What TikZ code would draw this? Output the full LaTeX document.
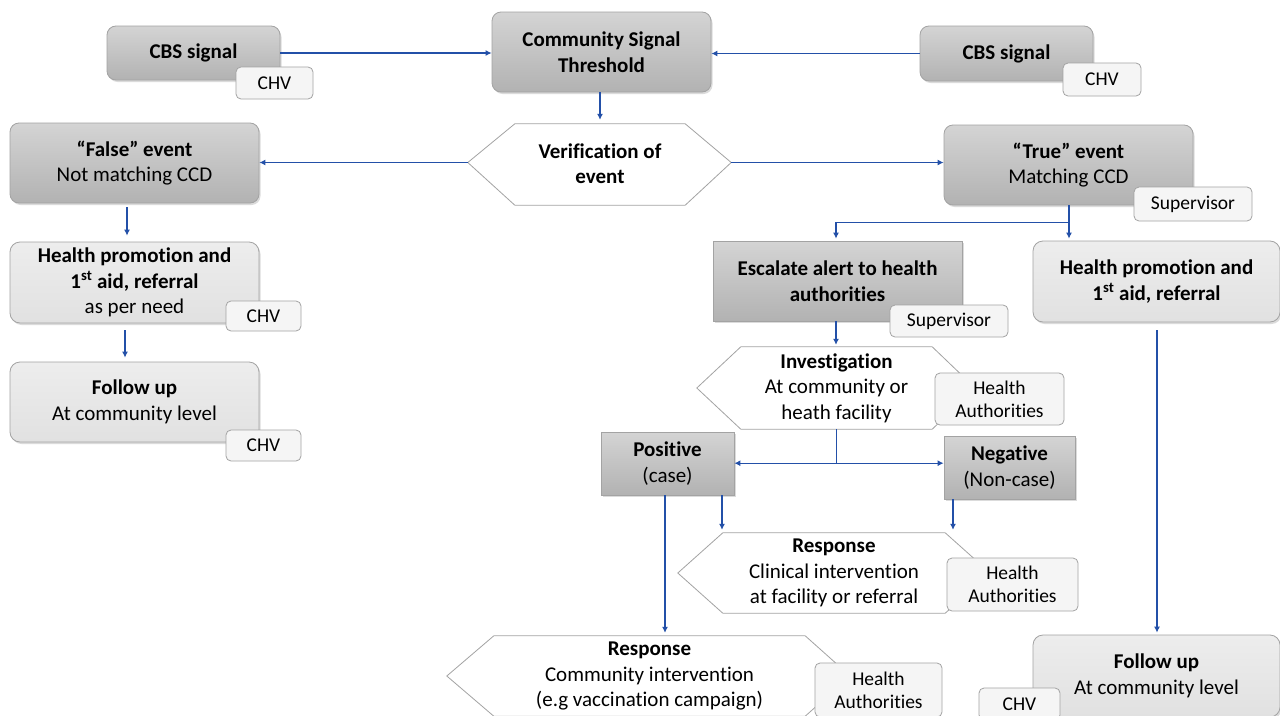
\documentclass[tikz,border=0pt]{standalone}
\usepackage{fontspec}
\setmainfont{Carlito}[Ligatures=NoCommon]
\usetikzlibrary{calc,arrows.meta,shadows,backgrounds}
\definecolor{arrblue}{HTML}{2350A8}
\definecolor{edgegray}{HTML}{A3A3A3}
\definecolor{darktop}{HTML}{D4D4D4}
\definecolor{darkbot}{HTML}{B2B2B2}
\definecolor{lighttop}{HTML}{EDEDED}
\definecolor{lightbot}{HTML}{E1E1E1}
\definecolor{tagfill}{HTML}{F5F5F5}
\tikzset{
  base/.style={inner sep=0pt, align=center, font=\fontsize{21}{25.5}\selectfont, text=black},
  boxshadow/.style={drop shadow={shadow xshift=1.5pt, shadow yshift=-2pt, opacity=0.28}},
  darkbox/.style={base, draw=edgegray, line width=0.8pt, top color=darktop, bottom color=darkbot, rounded corners=9pt, boxshadow},
  darkrect/.style={base, draw=edgegray, line width=0.8pt, top color=darktop, bottom color=darkbot, sharp corners, boxshadow},
  lightbox/.style={base, draw=edgegray, line width=0.8pt, top color=lighttop, bottom color=lightbot, rounded corners=10pt, boxshadow},
  tag/.style={base, font=\fontsize{19.5}{23}\selectfont, draw=edgegray, fill=tagfill, rounded corners=5pt, line width=0.8pt},
  hex/.style={draw=edgegray, fill=white, line width=0.8pt},
  arr/.style={draw=arrblue, line width=1.1pt, -{Latex[length=6pt,width=6pt]}},
  plain/.style={draw=arrblue, line width=1.1pt},
}
\begin{document}
\begin{tikzpicture}[x=1pt,y=-1pt]
\useasboundingbox (0,0) rectangle (1280,715);
\clip (0,0) rectangle (1280,715);
\begin{pgfonlayer}{background}
\fill[white] (0,0) rectangle (1280,715);
\end{pgfonlayer}

% top row
\node[darkbox, minimum width=173, minimum height=54] (cbsL) at (193.5,53) {\textbf{CBS signal}};
\node[tag, minimum width=77, minimum height=32] (cbsLt) at (274.5,83) {CHV};
\node[darkbox, minimum width=219, minimum height=80] (cst) at (601.5,52) {\textbf{Community Signal}\\\textbf{Threshold}};
\node[darkbox, minimum width=173, minimum height=55] (cbsR) at (1006.5,53.5) {\textbf{CBS signal}};
\node[tag, minimum width=78, minimum height=33] (cbsRt) at (1102,79.5) {CHV};

% verification
\node[base, minimum width=170, minimum height=81] (ver) at (600,163.5) {\textbf{Verification of}\\\textbf{event}};
\coordinate (verL) at ($(ver.west)+(-47,-1)$);
\coordinate (verR) at ($(ver.east)+(46,-1)$);
\begin{pgfonlayer}{background}
\draw[hex] (verL) -- ([yshift=-1]ver.north west) -- ([yshift=-1]ver.north east) -- (verR) -- ([yshift=-1]ver.south east) -- ([yshift=-1]ver.south west) -- cycle;
\end{pgfonlayer}

\node[darkbox, minimum width=249, minimum height=80] (falseE) at (134.5,163) {\textbf{“False” event}\\Not matching CCD};
\node[darkbox, minimum width=249, minimum height=80] (trueE) at (1068.5,165) {\textbf{“True” event}\\Matching CCD};
\node[tag, minimum width=118, minimum height=34] (trueEt) at (1193,204) {Supervisor};

% left column
\node[lightbox, minimum width=249, minimum height=81] (hpL) at (134.5,282.5) {\textbf{Health promotion and}\\\textbf{1\textsuperscript{st} aid, referral}\\as per need};
\node[tag, minimum width=75, minimum height=30] (hpLt) at (263.5,316) {CHV};
\node[lightbox, minimum width=249, minimum height=80] (fuL) at (134.5,402) {\textbf{Follow up}\\At community level};
\node[tag, minimum width=75, minimum height=31] (fuLt) at (263.5,445.5) {CHV};

% right branch
\node[darkrect, minimum width=249, minimum height=80] (esc) at (837.5,281) {\textbf{Escalate alert to health}\\\textbf{authorities}};
\node[tag, minimum width=118, minimum height=32] (escT) at (949,321) {Supervisor};
\node[lightbox, minimum width=247, minimum height=81] (hpR) at (1156.5,281.5) {\textbf{Health promotion and}\\\textbf{1\textsuperscript{st} aid, referral}};

% investigation
\node[base, minimum width=191, minimum height=82] (inv) at (836.5,388) {\textbf{Investigation}\\At community or\\heath facility};
\coordinate (invL) at ($(inv.west)+(-44,0)$);
\coordinate (invR) at ($(inv.east)+(43,0)$);
\begin{pgfonlayer}{background}
\draw[hex] (invL) -- (inv.north west) -- (inv.north east) -- (invR) -- (inv.south east) -- (inv.south west) -- cycle;
\end{pgfonlayer}
\node[tag, minimum width=129, minimum height=52] (invT) at (999.5,399) {Health\\Authorities};

\node[darkrect, minimum width=133, minimum height=63] (pos) at (667.5,463.5) {\textbf{Positive}\\(case)};
\node[darkrect, minimum width=131, minimum height=63] (neg) at (1009.5,467.5) {\textbf{Negative}\\(Non-case)};

% response 1
\node[base, minimum width=222, minimum height=80] (resp1) at (834,573) {\textbf{Response}\\Clinical intervention\\at facility or referral};
\coordinate (r1L) at ($(resp1.west)+(-45,0)$);
\coordinate (r1R) at ($(resp1.east)+(45,0)$);
\begin{pgfonlayer}{background}
\draw[hex] (r1L) -- (resp1.north west) -- (resp1.north east) -- (r1R) -- (resp1.south east) -- (resp1.south west) -- cycle;
\end{pgfonlayer}
\node[tag, minimum width=131, minimum height=53] (r1T) at (1012.5,584.5) {Health\\Authorities};

% response 2
\node[base, minimum width=311, minimum height=80] (resp2) at (649.5,676) {\textbf{Response}\\Community intervention\\(e.g vaccination campaign)};
\coordinate (r2L) at ($(resp2.west)+(-47,0)$);
\coordinate (r2R) at ($(resp2.east)+(45,0)$);
\begin{pgfonlayer}{background}
\draw[hex] (r2L) -- (resp2.north west) -- (resp2.north east) -- (r2R) -- (resp2.south east) -- (resp2.south west) -- cycle;
\end{pgfonlayer}
\node[tag, minimum width=127, minimum height=54] (r2T) at (878.5,690) {Health\\Authorities};

% follow up right
\node[lightbox, minimum width=247, minimum height=82] (fuR) at (1156.5,676) {\textbf{Follow up}\\At community level};
\node[tag, minimum width=81, minimum height=32] (fuRt) at (1019.5,704) {CHV};

% connectors
\draw[arr] (cbsL.east) -- (cbsL.east -| cst.west);
\draw[arr] (cbsR.west) -- (cbsR.west -| cst.east);
\draw[arr] ([xshift=-1.5]cst.south) -- ($([xshift=-1.5]cst.south |- ver.north)+(0,-3)$);
\draw[arr] (verL) -- (verL -| falseE.east);
\draw[arr] (verR) -- (verR -| trueE.west);
\draw[arr] ($(falseE.south)+(-7.5,4)$) -- ($(falseE.south |- hpL.north)+(-7.5,-6)$);
\draw[arr] ($(hpL.south)+(-9.5,7)$) -- ($(hpL.south |- fuL.north)+(-9.5,-4)$);
\coordinate (split) at ($(trueE.south)+(0.5,17)$);
\draw[plain] ([xshift=0.5]trueE.south) -- (split);
\draw[arr] (split) -| ($(esc.north)+(-1.5,-2)$);
\draw[arr] (split) -- ($(split |- hpR.north)+(0,-2)$);
\draw[arr] ([xshift=-1.5]esc.south) -- ($([xshift=-1.5]esc.south |- inv.north)+(0,-2)$);
\coordinate (junc) at ($(inv.south)+(0,34)$);
\draw[plain] (inv.south) -- (junc);
\draw[arr] (junc) -- (junc -| pos.east);
\draw[arr] (junc) -- (junc -| neg.west);
\draw[arr] ([xshift=54.5]pos.south) -- ($([xshift=54.5]pos.south |- resp1.north)+(0,-3)$);
\draw[arr] ([xshift=-56.5]neg.south) -- ($([xshift=-56.5]neg.south |- resp1.north)+(0,-3)$);
\draw[arr] ([xshift=-2.5]pos.south) -- ($([xshift=-2.5]pos.south |- resp2.north)+(0,-3)$);
\draw[arr] ($(hpR.south)+(0.5,8)$) -- ($(hpR.south |- fuR.north)+(0.5,-2)$);
\end{tikzpicture}
\end{document}
